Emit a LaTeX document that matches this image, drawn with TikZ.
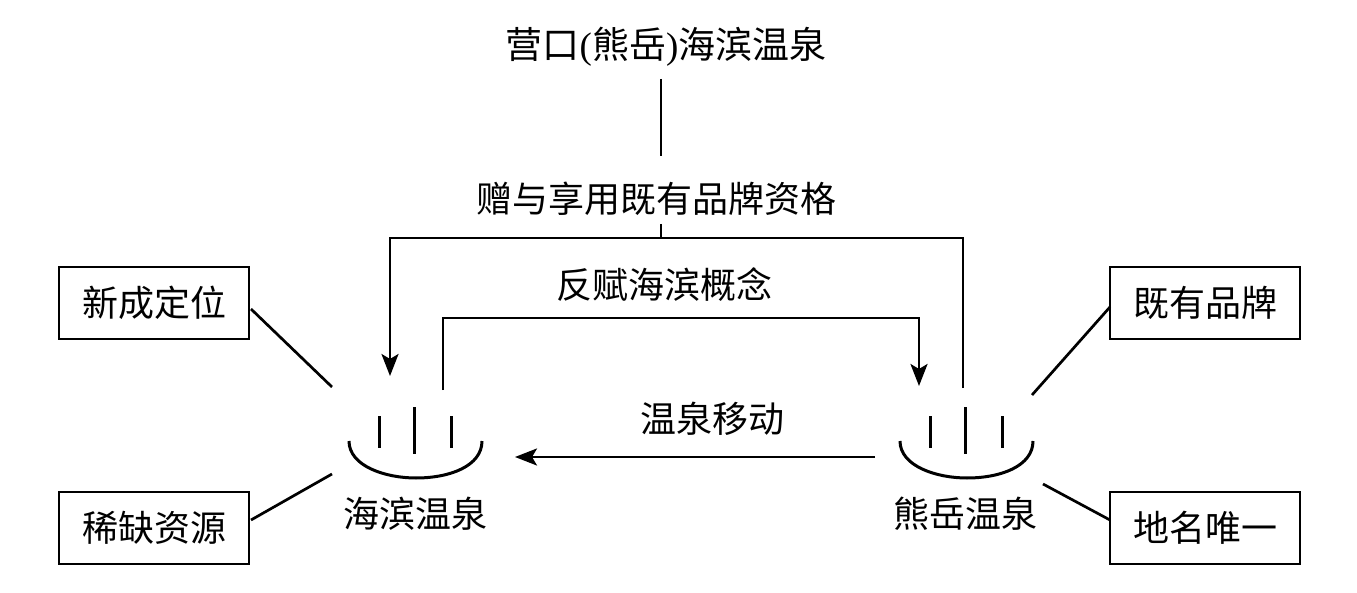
\documentclass[tikz,border=0pt]{standalone}
\usepackage{fontspec}
\setmainfont{Liberation Serif}
\newfontfamily\cjk{Noto Sans CJK SC}
\usetikzlibrary{arrows.meta}
\tikzset{
 lbl/.style={inner sep=0pt,font=\fontsize{36}{38}\selectfont\cjk},
 boxn/.style={draw=black,line width=2.8pt,minimum width=190pt,minimum height=72pt,inner sep=0pt,font=\fontsize{36}{38}\selectfont\cjk},
 ln/.style={draw=black,line width=2.7pt},
 stick/.style={draw=black,line width=3pt},
 arr/.style={ln,-{Stealth[length=22pt,width=17pt,inset=5pt]}}
}
\begin{document}
\begin{tikzpicture}[x=1pt,y=-1pt]
\useasboundingbox (0,0) rectangle (1357,593);
\node[lbl,font=\fontsize{37}{39}\selectfont\cjk] (title) at (666,47) {营口{\rmfamily(}熊岳{\rmfamily)}海滨温泉};
\node[lbl] (gift) at (656,199) {赠与享用既有品牌资格};
\node[lbl] (anti) at (664,285) {反赋海滨概念};
\node[lbl] (move) at (712,419) {温泉移动};
\node[lbl] (sea) at (415,514) {海滨温泉};
\node[lbl] (xy) at (965,514) {熊岳温泉};
\node[boxn] (b1) at (154,303) {新成定位};
\node[boxn] (b2) at (154,528) {稀缺资源};
\node[boxn] (b3) at (1205,303) {既有品牌};
\node[boxn] (b4) at (1205,528) {地名唯一};
\coordinate (t1) at (661,79);
\coordinate (t2) at (661,156);
\coordinate (t3) at (661,224);
\coordinate (t4) at (661,238);
\coordinate (la) at (390,238);
\coordinate (ra) at (963,238);
\coordinate (lae) at (390,376);
\coordinate (re) at (963,388);
\coordinate (ils) at (443,390);
\coordinate (il) at (443,318);
\coordinate (ir) at (919,318);
\coordinate (ire) at (919,386);
\coordinate (ms) at (875,457);
\coordinate (me) at (515,457);
\draw[ln] (t1)--(t2);
\draw[ln] (t3)--(t4);
\draw[arr] (re)--(ra)--(la)--(lae);
\draw[arr] (ils)--(il)--(ir)--(ire);
\draw[arr] (ms)--(me);
\coordinate (a1) at (251,309); \coordinate (a2) at (332,387);
\coordinate (c1) at (251,520); \coordinate (c2) at (332,474);
\coordinate (d1) at (1110,307); \coordinate (d2) at (1032,395);
\coordinate (e1) at (1110,520); \coordinate (e2) at (1043,484);
\draw[ln] (a1)--(a2); \draw[ln] (c1)--(c2); \draw[ln] (d1)--(d2); \draw[ln] (e1)--(e2);
\coordinate (s1a) at (379,416); \coordinate (s1b) at (379,448);
\coordinate (s2a) at (414,407); \coordinate (s2b) at (414,454);
\coordinate (s3a) at (451,416); \coordinate (s3b) at (451,448);
\draw[stick] (s1a)--(s1b); \draw[stick] (s2a)--(s2b); \draw[stick] (s3a)--(s3b);
\coordinate (u1) at (349,441); \coordinate (u2) at (416,478); \coordinate (u3) at (482,441);
\draw[stick] (u1) .. controls (349,466) and (385,478) .. (u2) .. controls (450,478) and (482,466) .. (u3);
\coordinate (v1a) at (930,416); \coordinate (v1b) at (930,448);
\coordinate (v2a) at (965,407); \coordinate (v2b) at (965,454);
\coordinate (v3a) at (1002,416); \coordinate (v3b) at (1002,448);
\draw[stick] (v1a)--(v1b); \draw[stick] (v2a)--(v2b); \draw[stick] (v3a)--(v3b);
\coordinate (w1) at (900,441); \coordinate (w2) at (967,478); \coordinate (w3) at (1033,441);
\draw[stick] (w1) .. controls (900,466) and (936,478) .. (w2) .. controls (1001,478) and (1033,466) .. (w3);
\end{tikzpicture}
\end{document}
